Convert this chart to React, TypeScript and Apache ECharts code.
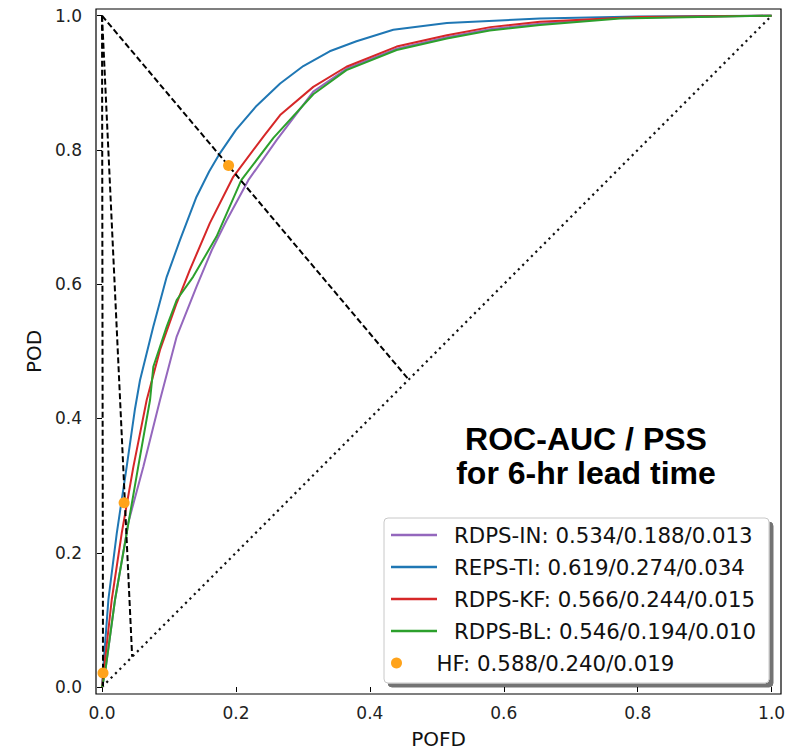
import React, { useEffect, useRef } from 'react';
import * as echarts from 'echarts';

// Tick values for both axes
const tickValues = [0, 0.2, 0.4, 0.6, 0.8, 1.0];

// ROC curves (POFD, POD)
const rdpsIn: [number, number][] = [
  [0, 0], [0.0045, 0.021], [0.0194, 0.13], [0.0368, 0.229], [0.039, 0.244], [0.0617, 0.328],
  [0.0866, 0.4275], [0.1115, 0.522], [0.141, 0.596], [0.164, 0.651], [0.186, 0.695],
  [0.2185, 0.755], [0.261, 0.815], [0.3155, 0.887], [0.365, 0.921], [0.44, 0.951],
  [0.515, 0.968], [0.579, 0.98], [0.654, 0.988], [0.7735, 0.997], [1, 1],
];
const repsTi: [number, number][] = [
  [0, 0], [0.002, 0.03], [0.0095, 0.13], [0.022, 0.229], [0.0368, 0.328], [0.049, 0.413],
  [0.0567, 0.457], [0.0766, 0.537], [0.0966, 0.611], [0.1165, 0.666], [0.141, 0.73],
  [0.16, 0.768], [0.176, 0.795], [0.2, 0.83], [0.231, 0.866], [0.266, 0.899], [0.3006, 0.925],
  [0.34, 0.947], [0.38, 0.962], [0.435, 0.979], [0.515, 0.989], [0.654, 0.996], [0.8, 0.999], [1, 1],
];
const rdpsKf: [number, number][] = [
  [0, 0], [0.0145, 0.13], [0.0294, 0.229], [0.0468, 0.328], [0.0667, 0.4275], [0.0866, 0.502],
  [0.1115, 0.572], [0.131, 0.621], [0.161, 0.691], [0.196, 0.76], [0.241, 0.82], [0.266, 0.852],
  [0.3155, 0.894], [0.365, 0.924], [0.44, 0.954], [0.515, 0.971], [0.58, 0.983], [0.654, 0.991],
  [0.8, 0.998], [1, 1],
];
const rdpsBl: [number, number][] = [
  [0, 0], [0.0045, 0.021], [0.0194, 0.13], [0.0368, 0.229], [0.054, 0.328], [0.0717, 0.4275],
  [0.0766, 0.477], [0.0966, 0.537], [0.1115, 0.5765], [0.136, 0.611], [0.171, 0.671],
  [0.208, 0.755], [0.256, 0.818], [0.3155, 0.883], [0.365, 0.919], [0.44, 0.949],
  [0.515, 0.966], [0.579, 0.978], [0.654, 0.986], [0.7735, 0.996], [1, 1],
];

// HF points
const hfPoints: [number, number][] = [[0.0015, 0.021], [0.033, 0.2745], [0.189, 0.777]];

// Reference lines
const noSkill: [number, number][] = [[0, 0], [1, 1]];
const pssLineLow: [number, number][] = [[0, 1], [0.0015, 0.0015]];
const pssLineMid: [number, number][] = [[0, 1], [0.045, 0.045]];
const pssLineHigh: [number, number][] = [[0, 1], [0.458, 0.458]];

const seriesNames = [
  'RDPS-IN: 0.534/0.188/0.013',
  'REPS-TI: 0.619/0.274/0.034',
  'RDPS-KF: 0.566/0.244/0.015',
  'RDPS-BL: 0.546/0.194/0.010',
];
const hfName = 'HF: 0.588/0.240/0.019';
const seriesColors = ['#9467bd', '#1f77b4', '#d62728', '#2ca02c'];
const hfColor = '#ffa31a';
const titleLines = ['ROC-AUC / PSS', 'for 6-hr lead time'];

const FONT = "'DejaVu Sans', sans-serif";

export default function App() {
  const ref = useRef<HTMLDivElement>(null);
  useEffect(() => {
    if (!ref.current) return;
    const chart = echarts.init(ref.current, undefined, { renderer: 'svg' });
    const curves = [rdpsIn, repsTi, rdpsKf, rdpsBl];
    const dashed = (data: [number, number][]) => ({
      type: 'line',
      data,
      symbol: 'none',
      showSymbol: false,
      silent: true,
      z: 3,
      lineStyle: { color: '#000', width: 2, type: [6, 3] },
    });
    const fmt = (v: number) => v.toFixed(1);
    chart.setOption({
      animation: false,
      grid: {
        left: 96, top: 9, width: 685, height: 685,
        outerBoundsMode: 'none', containLabel: false,
        show: true, borderColor: '#000', borderWidth: 1.2, backgroundColor: 'transparent',
      },
      xAxis: {
        type: 'value', min: -0.009, max: 1.014,
        name: 'POFD', nameLocation: 'middle', nameGap: 37,
        nameTextStyle: { fontFamily: FONT, fontSize: 20, color: '#111', lineHeight: 16 },
        axisLine: { show: false },
        axisTick: { show: true, customValues: tickValues, length: 5, lineStyle: { color: '#000', width: 1 } },
        axisLabel: { customValues: tickValues, formatter: fmt, margin: 10, fontFamily: FONT, fontSize: 17, color: '#222' },
        splitLine: { show: false },
      },
      yAxis: {
        type: 'value', min: -0.0104, max: 1.010,
        name: 'POD', nameLocation: 'middle', nameGap: 49,
        nameTextStyle: { fontFamily: FONT, fontSize: 20, color: '#111' },
        axisLine: { show: false },
        axisTick: { show: true, customValues: tickValues, length: 5, lineStyle: { color: '#000', width: 1 } },
        axisLabel: { customValues: tickValues, formatter: fmt, margin: 14, fontFamily: FONT, fontSize: 17, color: '#222' },
        splitLine: { show: false },
      },
      legend: [
        {
          data: seriesNames,
          orient: 'vertical', left: 391, top: 524, padding: 0,
          itemWidth: 46, itemHeight: 2.5, icon: 'rect', itemGap: 10,
          selectedMode: false, z: 6,
          textStyle: { fontFamily: FONT, fontSize: 21.3, color: '#111', lineHeight: 22, padding: [0, 0, 0, 12] },
        },
        {
          data: [hfName],
          orient: 'vertical', left: 391, top: 652, padding: 0,
          itemWidth: 46, itemHeight: 11, icon: 'circle',
          selectedMode: false, z: 6,
          itemStyle: { opacity: 1 },
          textStyle: { fontFamily: FONT, fontSize: 21.3, color: '#111', lineHeight: 22, padding: [0, 0, 0, 12] },
        },
      ],
      graphic: [
        {
          type: 'rect', z: 5, silent: true,
          shape: { x: 384, y: 518, width: 385, height: 165, r: 4 },
          style: {
            fill: '#fff', stroke: '#c8c8c8', lineWidth: 1,
            shadowColor: 'rgba(0,0,0,0.55)', shadowBlur: 1, shadowOffsetX: 4, shadowOffsetY: 4,
          },
        },
        {
          type: 'text', z: 5, x: 586, y: 439,
          style: {
            text: titleLines[0], fill: '#000', align: 'center', verticalAlign: 'middle',
            font: "bold 32px 'Liberation Sans', Arial, sans-serif",
          },
        },
        {
          type: 'text', z: 5, x: 586, y: 473,
          style: {
            text: titleLines[1], fill: '#000', align: 'center', verticalAlign: 'middle',
            font: "bold 32px 'Liberation Sans', Arial, sans-serif",
          },
        },
      ],
      series: [
        {
          type: 'line', data: noSkill, symbol: 'none', silent: true, z: 1,
          lineStyle: { color: '#111', width: 2.2, type: [2.2, 4] },
        },
        ...curves.map((d, i) => ({
          type: 'line', name: seriesNames[i], data: d, symbol: 'none', showSymbol: false,
          color: seriesColors[i], z: 2,
          lineStyle: { color: seriesColors[i], width: 2 },
        })),
        dashed(pssLineLow),
        dashed(pssLineMid),
        dashed(pssLineHigh),
        {
          type: 'scatter', name: hfName, data: hfPoints, symbolSize: 11, z: 4,
          itemStyle: { color: hfColor, opacity: 1 },
        },
      ],
    });
    return () => chart.dispose();
  }, []);
  return (
    <div
      ref={ref}
      style={{ position: 'fixed', left: 0, top: 0, width: 798, height: 750, background: '#fff' }}
    />
  );
}
